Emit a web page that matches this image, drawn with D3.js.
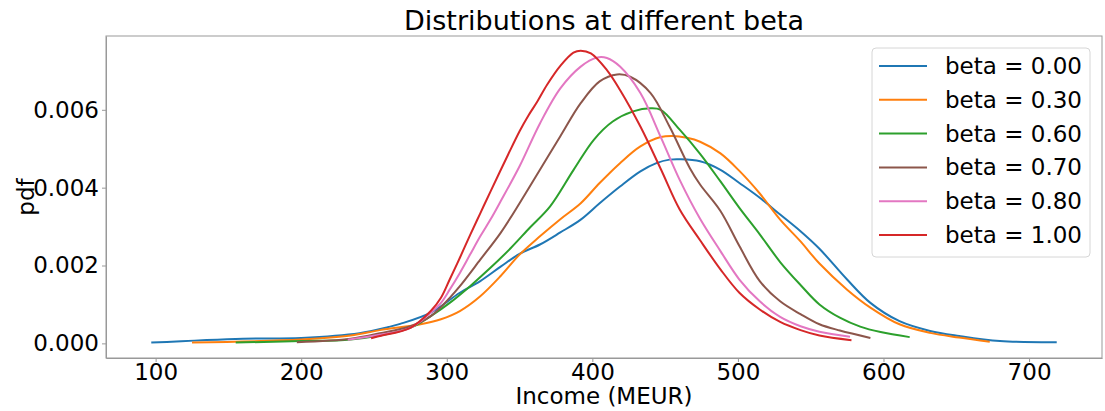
<!DOCTYPE html>
<html>
  <head>
    <meta charset="utf-8"/>
    <title>Distributions at different beta</title>
    <script src="https://cdn.jsdelivr.net/npm/d3@7"></script>
    <style type="text/css">
body {
  margin: 0;
  background: #fff;
  font-family: "DejaVu Sans", sans-serif;
}
.line {
  fill: none;
  stroke-width: 2;
}
.axis path, .axis line {
  stroke: #999;
}
.axis text {
  fill: #000;
  font-size: 23px;
  font-family: "DejaVu Sans", sans-serif;
}
    </style>
  </head>
  <body>
    <div id="chart"></div>
    <script>
    // series labels and colours (matplotlib tab10 order as in the legend)
    const betas = ["0.00", "0.30", "0.60", "0.70", "0.80", "1.00"];
    const colors = ["#1f77b4", "#ff7f0e", "#2ca02c", "#8c564b", "#e377c2", "#d62728"];

    const xTicks = [100, 200, 300, 400, 500, 600, 700];
    const yTicks = [0, 0.002, 0.004, 0.006];

    // income (MEUR) / pdf pairs
    const income00 = [97, 160, 200, 240, 260, 268, 289, 309, 323, 337, 350, 364, 378, 392, 405, 419, 433, 444, 453, 460, 474, 488, 501, 515, 529, 543, 556, 575, 591, 611, 632, 652, 680, 719];
    const pdf00 = [0.00002, 0.00012, 0.00014, 0.00026, 0.00042, 0.0005, 0.00079, 0.0013, 0.0016, 0.00197, 0.0023, 0.00254, 0.00285, 0.00318, 0.0036, 0.00403, 0.00442, 0.00463, 0.00472, 0.00473, 0.00468, 0.00446, 0.00412, 0.00374, 0.00331, 0.00288, 0.00243, 0.00164, 0.00104, 0.00057, 0.00032, 0.00019, 0.00006, 0.00003];

    const income30 = [125, 200, 234, 254, 282, 296, 309, 323, 337, 350, 364, 378, 392, 405, 419, 433, 447, 455, 465, 474, 488, 501, 515, 529, 543, 556, 575, 591, 611, 632, 652, 673];
    const pdf30 = [0.00002, 0.0001, 0.0002, 0.00034, 0.00049, 0.00062, 0.00083, 0.00121, 0.00173, 0.00228, 0.00275, 0.00319, 0.0036, 0.00412, 0.00463, 0.00506, 0.0053, 0.00533, 0.00528, 0.00518, 0.00488, 0.00443, 0.00385, 0.00318, 0.00262, 0.00205, 0.00138, 0.00092, 0.00049, 0.00027, 0.00015, 0.00004];

    const income60 = [155, 200, 234, 268, 278, 289, 302, 316, 330, 344, 357, 371, 387, 401, 414, 428, 440, 447, 460, 474, 488, 501, 515, 529, 543, 556, 570, 584, 598, 618];
    const pdf60 = [0.00002, 0.00006, 0.0001, 0.00032, 0.00045, 0.0007, 0.00104, 0.00147, 0.00194, 0.00245, 0.00297, 0.00352, 0.00445, 0.00523, 0.0057, 0.00596, 0.00604, 0.006, 0.00549, 0.00487, 0.00416, 0.00348, 0.0028, 0.00209, 0.0015, 0.001, 0.00066, 0.00043, 0.00029, 0.00016];

    const income70 = [197, 234, 254, 275, 289, 302, 309, 323, 337, 350, 364, 378, 392, 405, 417, 426, 440, 453, 467, 474, 488, 501, 515, 529, 543, 556, 570, 591];
    const pdf70 = [0.00003, 0.00012, 0.00026, 0.00044, 0.0007, 0.00117, 0.00147, 0.00215, 0.00284, 0.0036, 0.00446, 0.00532, 0.00617, 0.00673, 0.00691, 0.00685, 0.00643, 0.00557, 0.0045, 0.00408, 0.0034, 0.0025, 0.0016, 0.00108, 0.00075, 0.00049, 0.00033, 0.00014];

    const income80 = [232, 254, 275, 289, 296, 302, 309, 316, 323, 330, 337, 350, 364, 378, 392, 403, 410, 419, 433, 447, 460, 474, 488, 501, 515, 529, 543, 556, 577];
    const pdf80 = [0.00009, 0.00022, 0.0004, 0.00079, 0.00104, 0.00138, 0.00181, 0.00228, 0.00275, 0.00318, 0.00365, 0.00455, 0.00565, 0.00655, 0.00711, 0.00734, 0.00733, 0.00711, 0.00643, 0.0053, 0.0042, 0.0032, 0.00237, 0.00164, 0.00108, 0.00068, 0.00044, 0.0003, 0.00017];

    const income100 = [248, 254, 275, 289, 296, 302, 309, 316, 323, 330, 342, 350, 356, 362, 369, 378, 387, 392, 399, 410, 419, 433, 447, 460, 474, 488, 501, 515, 529, 543, 556, 578];
    const pdf100 = [0.00013, 0.00019, 0.0004, 0.00083, 0.00117, 0.00164, 0.0022, 0.00278, 0.00334, 0.0039, 0.00484, 0.00545, 0.00585, 0.0062, 0.00665, 0.00713, 0.00747, 0.00752, 0.00745, 0.00702, 0.00651, 0.00557, 0.00448, 0.00344, 0.00265, 0.0019, 0.0013, 0.00087, 0.00055, 0.00034, 0.0002, 0.00008];

    const incomes = [income00, income30, income60, income70, income80, income100];
    const pdfs = [pdf00, pdf30, pdf60, pdf70, pdf80, pdf100];

    const series = betas.map((b, i) => ({
      label: "beta = " + b,
      color: colors[i],
      values: incomes[i].map((x, j) => ({x: x, y: pdfs[i][j]}))
    }));

    const width = 1105, height = 411;
    const margin = {top: 36, right: 3, bottom: 53, left: 106};
    const w = width - margin.left - margin.right;
    const h = height - margin.top - margin.bottom;

    // matplotlib-like 5% padding around the data
    const xmin = d3.min(incomes, a => d3.min(a)), xmax = d3.max(incomes, a => d3.max(a));
    const ymax = d3.max(pdfs, a => d3.max(a));
    const xpad = (xmax - xmin) * 0.05, ypad = ymax * 0.05;

    const x = d3.scaleLinear().domain([xmin - xpad, xmax + xpad]).range([0, w]);
    const y = d3.scaleLinear().domain([-ypad, ymax + ypad]).range([h, 0]);

    const svg = d3.select("#chart").append("svg")
        .attr("width", width)
        .attr("height", height);

    const g = svg.append("g")
        .attr("transform", "translate(" + margin.left + "," + margin.top + ")");

    const line = d3.line()
        .x(d => x(d.x))
        .y(d => y(d.y))
        .curve(d3.curveCatmullRom.alpha(0.5));

    g.selectAll(".line")
        .data(series)
        .enter()
        .append("path")
        .attr("class", "line")
        .style("stroke", d => d.color)
        .attr("d", d => line(d.values));

    // axes
    g.append("g")
        .attr("class", "axis")
        .attr("transform", "translate(0," + h + ")")
        .call(d3.axisBottom(x).tickValues(xTicks).tickSizeInner(4).tickSizeOuter(0).tickPadding(2).tickFormat(d3.format("d")));

    g.append("g")
        .attr("class", "axis")
        .call(d3.axisLeft(y).tickValues(yTicks).tickSizeInner(4).tickSizeOuter(0).tickPadding(3).tickFormat(d3.format(".3f")));

    // frame
    g.append("rect")
        .attr("width", w)
        .attr("height", h)
        .style("fill", "none")
        .style("stroke", "#999")
        .style("stroke-width", 1);

    svg.append("text")
        .attr("x", margin.left + w / 2)
        .attr("y", 30)
        .attr("text-anchor", "middle")
        .style("font-size", "27px")
        .text("Distributions at different beta");

    svg.append("text")
        .attr("x", margin.left + w / 2)
        .attr("y", 404)
        .attr("text-anchor", "middle")
        .style("font-size", "23px")
        .text("Income (MEUR)");

    svg.append("text")
        .attr("transform", "translate(34," + (margin.top + h / 2) + ") rotate(-90)")
        .attr("text-anchor", "middle")
        .style("font-size", "23px")
        .text("pdf");

    // legend
    const legend = svg.append("g").attr("transform", "translate(872,48)");
    legend.append("rect")
        .attr("width", 218)
        .attr("height", 209)
        .attr("rx", 4)
        .style("fill", "#fff")
        .style("fill-opacity", 0.8)
        .style("stroke", "#d6d6d6");

    const items = legend.selectAll(".item")
        .data(series)
        .enter()
        .append("g")
        .attr("transform", (d, i) => "translate(0," + (18 + i * 33.8) + ")");

    items.append("line")
        .attr("x1", 7).attr("x2", 55)
        .style("stroke", d => d.color)
        .style("stroke-width", 2);

    items.append("text")
        .attr("x", 73)
        .attr("dy", "0.35em")
        .style("font-size", "23px")
        .text(d => d.label);
    </script>
  </body>
</html>
